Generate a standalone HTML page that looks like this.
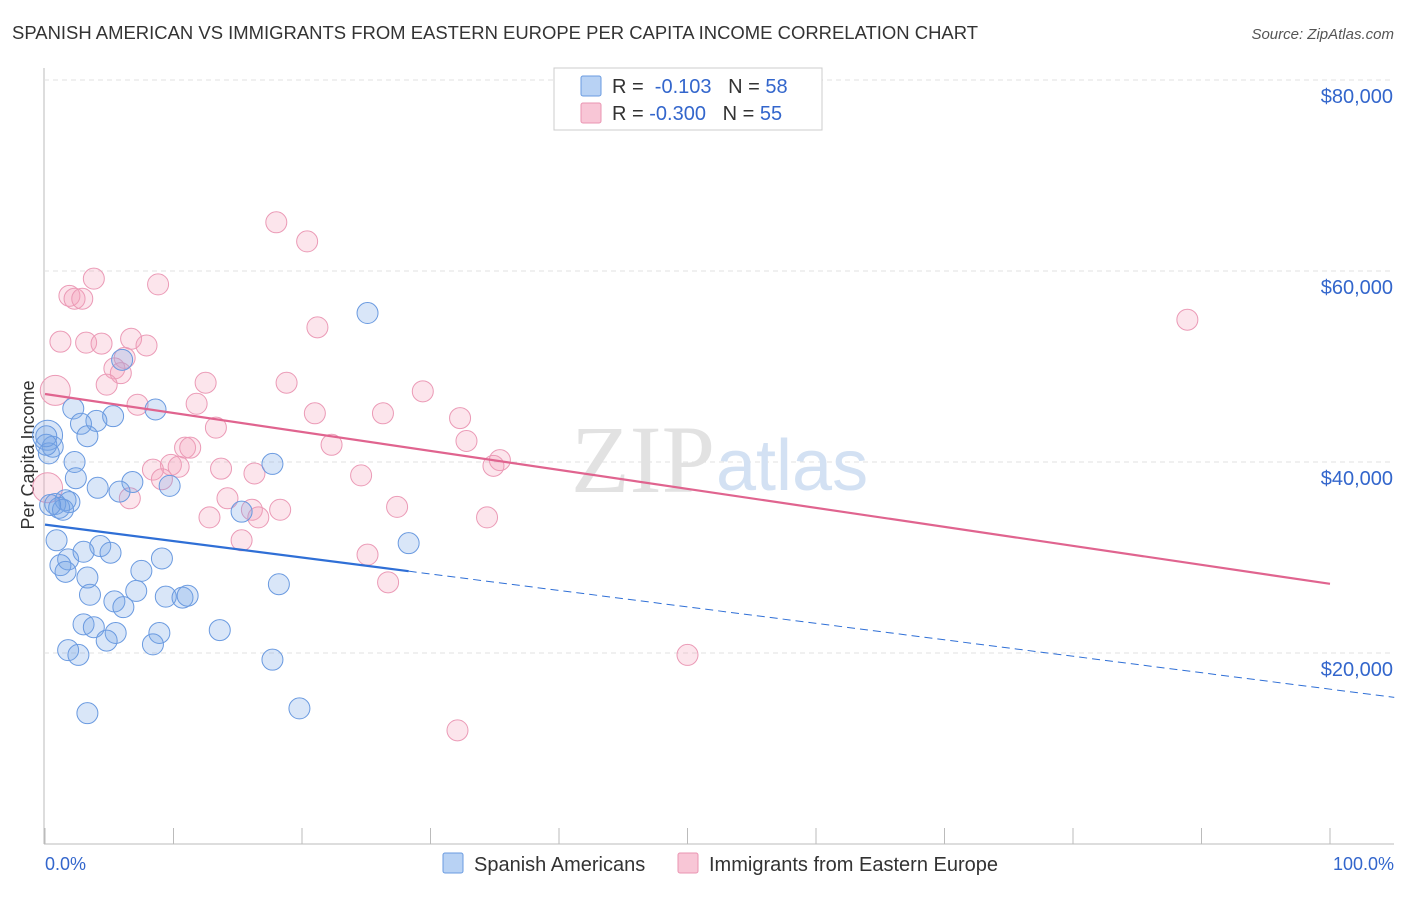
<!DOCTYPE html>
<html><head><meta charset="utf-8"><style>
body{margin:0;background:#fff;font-family:"Liberation Sans",sans-serif;}
</style></head><body>
<svg id="chart" width="1406" height="892" xmlns="http://www.w3.org/2000/svg" font-family="Liberation Sans, sans-serif">
<text x="12" y="39" font-size="18" fill="#333" textLength="966" lengthAdjust="spacingAndGlyphs">SPANISH AMERICAN VS IMMIGRANTS FROM EASTERN EUROPE PER CAPITA INCOME CORRELATION CHART</text>
<text x="1394" y="39" font-size="15" fill="#555" font-style="italic" text-anchor="end">Source: ZipAtlas.com</text>
<text x="34" y="455" font-size="18" fill="#333" text-anchor="middle" transform="rotate(-90 34 455)">Per Capita Income</text>
<g id="grid"></g>
<text x="715" y="492" font-size="96" fill="#e2e2e2" text-anchor="end" font-family="Liberation Serif, serif">ZIP</text>
<text x="716" y="490" font-size="72" fill="#d3e1f3">atlas</text>
<g id="marks"></g>
<g id="lines"></g>
<g>
<rect x="554" y="68" width="268" height="62" fill="#fff" stroke="#ccc"/>
<rect x="581" y="76" width="20" height="20" fill="#b8d2f4" stroke="#6a9be0" rx="2"/>
<rect x="581" y="103" width="20" height="20" fill="#f8c6d6" stroke="#ea94b2" rx="2"/>
<text x="612" y="93" font-size="20" fill="#333">R = <tspan fill="#3366cc">&#160;-0.103</tspan>&#160;&#160;&#160;N = <tspan fill="#3366cc">58</tspan></text>
<text x="612" y="120" font-size="20" fill="#333">R = <tspan fill="#3366cc">-0.300</tspan>&#160;&#160;&#160;N = <tspan fill="#3366cc">55</tspan></text>
</g>
<text x="45" y="870" font-size="18" fill="#3366cc">0.0%</text>
<text x="1394" y="870" font-size="18" fill="#3366cc" text-anchor="end">100.0%</text>
<g>
<rect x="443" y="853" width="20" height="20" fill="#b8d2f4" stroke="#6a9be0" rx="2"/>
<text x="474" y="871" font-size="20" fill="#333">Spanish Americans</text></g>
<g>
<rect x="678" y="853" width="20" height="20" fill="#f8c6d6" stroke="#ea94b2" rx="2"/>
<text x="709" y="871" font-size="20" fill="#333">Immigrants from Eastern Europe</text></g>
</svg>
<script>
const yTicks=[20000,40000,60000,80000];
const yTickLabels=["$20,000","$40,000","$60,000","$80,000"];
const blueX=[25.1,6.0,2.2,8.6,5.3,4.0,2.8,3.3,0.2,0.6,0.3,2.3,17.7,2.4,6.8,9.7,4.1,5.8,1.6,1.9,0.8,1.1,1.4,15.3,0.9,4.3,28.3,1.8,5.1,3.0,9.1,1.2,1.6,7.5,3.3,18.2,3.5,7.1,9.4,10.7,11.1,5.4,6.1,3.0,3.8,5.5,8.9,13.6,4.8,8.4,1.8,2.6,17.7,19.8,3.3,0.1,0.1,0.4];
const blueY=[55600,50700,45600,45500,44800,44300,44000,42700,42800,41600,40900,40000,39800,38300,37900,37500,37300,36900,36000,35800,35600,35200,35000,34800,31800,31200,31500,29800,30500,30600,29900,29200,28500,28600,27900,27200,26100,26500,25900,25800,26000,25400,24800,23000,22700,22100,22100,22400,21300,20900,20300,19800,19300,14200,13700,42700,41800,35500];
const pinkX=[18.0,20.4,3.8,8.8,1.9,2.3,2.9,21.2,1.2,3.2,4.4,6.7,7.9,6.2,5.4,5.9,4.8,12.5,18.8,29.4,0.8,7.2,11.8,21.0,26.3,32.3,13.3,22.3,32.8,10.9,11.3,35.4,34.9,9.8,10.4,8.4,13.7,24.6,16.3,9.1,14.2,6.6,16.1,18.3,27.4,12.8,16.6,34.4,15.3,25.1,26.7,50.0,32.1,88.9,0.2];
const pinkY=[65100,63100,59200,58600,57400,57100,57100,54100,52600,52500,52400,52900,52200,50900,49800,49300,48100,48300,48300,47400,47500,46000,46100,45100,45100,44600,43600,41800,42200,41500,41500,40200,39600,39700,39500,39200,39300,38600,38800,38200,36200,36200,35000,35000,35300,34200,34200,34200,31800,30300,27400,19800,11900,54900,37300];
const NS="http://www.w3.org/2000/svg";
const X0=45,X1=1330,Y0=844,PY=191/20000;
function sx(v){return X0+(X1-X0)*v/100;}
function sy(v){return Y0-v*PY;}
function mk(t,a,p){const e=document.createElementNS(NS,t);for(const k in a)e.setAttribute(k,a[k]);p.appendChild(e);return e;}
const grid=document.getElementById('grid');
mk('line',{x1:44,y1:68,x2:44,y2:844,stroke:'#bbb'},grid);
mk('line',{x1:44,y1:844,x2:1394,y2:844,stroke:'#bbb'},grid);
for(let i=0;i<=10;i++){const t=mk('line',{x1:sx(i*10),y1:828,x2:sx(i*10),y2:844,stroke:'#bbb'},grid);

}
yTicks.forEach((v,i)=>{const g=mk('line',{x1:44,y1:sy(v),x2:1394,y2:sy(v),stroke:'#e0e0e0','stroke-dasharray':'5,4'},grid);


const t=mk('text',{x:1393,y:sy(v)+23,'font-size':20,fill:'#3366cc','text-anchor':'end'},grid);t.textContent=yTickLabels[i];

});
const marks=document.getElementById('marks');
function dots(xs,ys,big,fill,stroke,name){xs.forEach((x,i)=>{const r=big.includes(i)?15:10.5;const c=mk('circle',{cx:sx(x),cy:sy(ys[i]),r:r,fill:fill,stroke:stroke,'stroke-width':1},marks);

});}
dots(pinkX,pinkY,[20,54],'rgba(244,160,188,0.28)','#eb9ab6','point-eastern-europe');
dots(blueX,blueY,[8],'rgba(120,165,230,0.28)','#6a9ae0','point-spanish-american');
function reg(xs,ys){const n=xs.length;let mx=0,my=0;for(let i=0;i<n;i++){mx+=xs[i];my+=ys[i];}mx/=n;my/=n;let sxy=0,sxx=0;for(let i=0;i<n;i++){sxy+=(xs[i]-mx)*(ys[i]-my);sxx+=(xs[i]-mx)**2;}const b=sxy/sxx;return[my-b*mx,b];}
const lines=document.getElementById('lines');
const [ba,bb]=reg(blueX,blueY),[pa,pb]=reg(pinkX,pinkY);
const bmax=Math.max(...blueX);
let l=mk('line',{x1:sx(0),y1:sy(ba),x2:sx(bmax),y2:sy(ba+bb*bmax),stroke:'#2f6fd6','stroke-width':2.2},lines);


l=mk('line',{x1:sx(bmax),y1:sy(ba+bb*bmax),x2:sx(105),y2:sy(ba+bb*105),stroke:'#2f6fd6','stroke-width':1,'stroke-dasharray':'8,5'},lines);


l=mk('line',{x1:sx(0),y1:sy(pa),x2:sx(100),y2:sy(pa+pb*100),stroke:'#e0648f','stroke-width':2.2},lines);


</script>
</body></html>
